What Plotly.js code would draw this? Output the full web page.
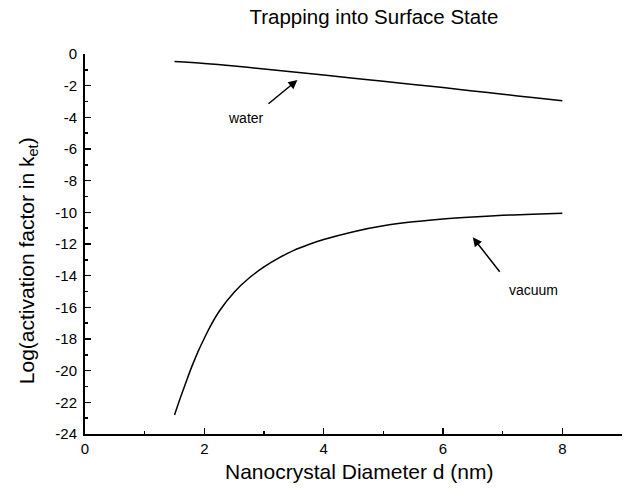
<!DOCTYPE html>
<html>
<head>
<meta charset="utf-8">
<script src="https://cdn.plot.ly/plotly-3.0.1.min.js"></script>
<style>html,body{margin:0;padding:0;background:#fff;}#chart{width:625px;height:494px;}</style>
</head>
<body>
<div id="chart"></div>
<script>
const waterX = [1.5, 2, 2.5, 3, 3.5, 4, 4.5, 5, 5.5, 6, 6.5, 7, 7.5, 8];
const waterY = [-0.48, -0.6, -0.76, -0.95, -1.14, -1.33, -1.53, -1.72, -1.92, -2.12, -2.33, -2.54, -2.75, -2.96];
const vacuumX = [1.5, 1.6, 1.7, 1.8, 1.9, 2.0, 2.1, 2.25, 2.5, 2.75, 3.0, 3.25, 3.5, 3.75, 4.0, 4.5, 5.0, 5.5, 6.0, 6.5, 7.0, 7.5, 8.0];
const vacuumY = [-22.8, -21.7, -20.65, -19.65, -18.75, -17.95, -17.2, -16.25, -15.05, -14.15, -13.45, -12.88, -12.4, -12.03, -11.72, -11.22, -10.85, -10.6, -10.42, -10.29, -10.19, -10.12, -10.06];
const xTicks = [0, 2, 4, 6, 8];
const yTicks = [0, -2, -4, -6, -8, -10, -12, -14, -16, -18, -20, -22, -24];

const font = 'Arial, "Liberation Sans", Helvetica, sans-serif';
const traces = [
  {x: waterX, y: waterY, mode: 'lines', line: {color: '#000', width: 1.5, shape: 'spline', smoothing: 1}, name: 'water', showlegend: false},
  {x: vacuumX, y: vacuumY, mode: 'lines', line: {color: '#000', width: 1.5, shape: 'spline', smoothing: 1}, name: 'vacuum', showlegend: false}
];
const layout = {
  width: 625, height: 494,
  margin: {l: 85, r: 3, t: 54, b: 60},
  paper_bgcolor: '#fff', plot_bgcolor: '#fff',
  font: {family: font, color: '#000', size: 15},
  title: {text: 'Trapping into Surface State', font: {size: 20.5, family: font}, x: 0.538, xref: 'paper', xanchor: 'center', y: 0.966, yref: 'container', yanchor: 'middle'},
  xaxis: {
    range: [0, 9], tickvals: xTicks, ticktext: xTicks.map(String),
    ticks: 'inside', ticklen: 6, tickwidth: 1.5, tickcolor: '#000',
    minor: {dtick: 1, tick0: 0, ticks: 'inside', ticklen: 3, tickwidth: 1.5, tickcolor: '#000'},
    showline: true, linecolor: '#000', linewidth: 2, showgrid: false, zeroline: false,
    tickfont: {size: 15}, ticklabelstandoff: 0
  },
  yaxis: {
    range: [-24, 0], tickvals: yTicks, ticktext: yTicks.map(String),
    ticks: 'inside', ticklen: 6, tickwidth: 1.5, tickcolor: '#000',
    minor: {dtick: 1, tick0: 0, ticks: 'inside', ticklen: 3, tickwidth: 1.5, tickcolor: '#000'},
    showline: true, linecolor: '#000', linewidth: 2, showgrid: false, zeroline: false,
    tickfont: {size: 15}, ticklabelstandoff: 3
  },
  annotations: [
    {xref: 'paper', yref: 'paper', x: 0.511, y: -0.099, text: 'Nanocrystal Diameter d (nm)', showarrow: false, font: {size: 21}, xanchor: 'center', yanchor: 'middle'},
    {xref: 'paper', yref: 'paper', x: -0.106, y: 0.455, text: 'Log(activation factor in k<sub>et</sub>)', textangle: -90, showarrow: false, font: {size: 21}, xanchor: 'center', yanchor: 'middle'},
    {x: 2.69, y: -4.02, text: 'water', showarrow: false, font: {size: 14}},
    {x: 3.56, y: -1.64, ax: 3.05, ay: -3.22, axref: 'x', ayref: 'y', text: '', showarrow: true, arrowhead: 2, arrowsize: 1.2, arrowwidth: 1.5, arrowcolor: '#000', standoff: 0},
    {x: 7.52, y: -14.91, text: 'vacuum', showarrow: false, font: {size: 14}},
    {x: 6.50, y: -11.58, ax: 6.97, ay: -13.85, axref: 'x', ayref: 'y', text: '', showarrow: true, arrowhead: 2, arrowsize: 1.2, arrowwidth: 1.5, arrowcolor: '#000', standoff: 0}
  ]
};
Plotly.newPlot('chart', traces, layout, {displayModeBar: false, staticPlot: true});
</script>
</body>
</html>
